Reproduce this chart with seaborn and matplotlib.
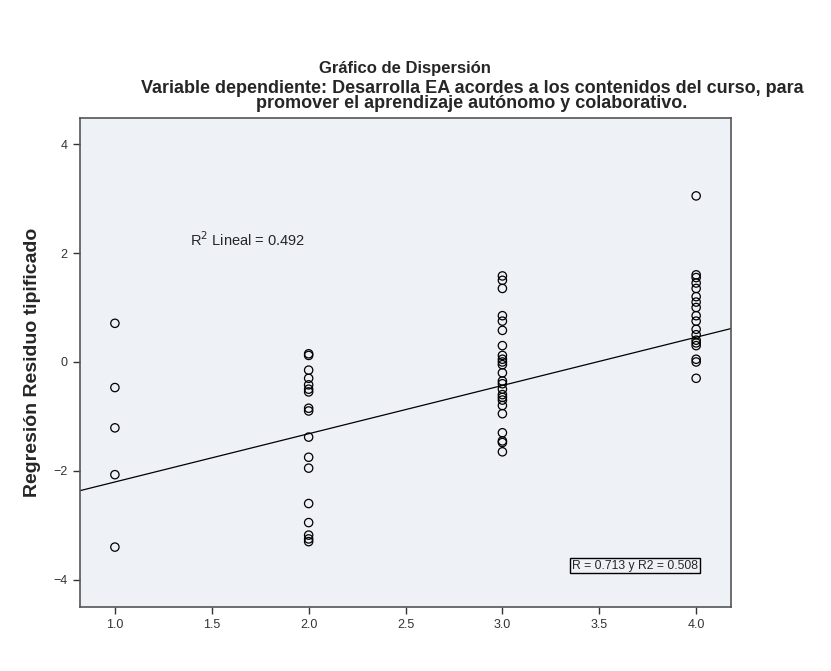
import numpy as np
import pandas as pd
import matplotlib
matplotlib.use("Agg")
import matplotlib.pyplot as plt
import seaborn as sns

# residuals, grouped by x value
res_1 = [0.71, -0.47, -1.21, -2.07, -3.40]
res_2 = [0.15, 0.12, -0.15, -0.30, -0.42, -0.50, -0.55, -0.85, -0.90, -1.38,
         -1.75, -1.95, -2.60, -2.95, -3.18, -3.25, -3.30]
res_3 = [1.58, 1.50, 1.35, 0.85, 0.75, 0.58, 0.30, 0.12, 0.05, 0.00, -0.05,
         -0.20, -0.35, -0.40, -0.50, -0.60, -0.65, -0.70, -0.80, -0.95,
         -1.30, -1.45, -1.48, -1.65]
res_4 = [3.05, 1.60, 1.55, 1.45, 1.35, 1.20, 1.10, 1.00, 0.85, 0.75, 0.60,
         0.50, 0.40, 0.35, 0.30, 0.05, 0.00, -0.30]

x_vals = [1.0] * len(res_1) + [2.0] * len(res_2) + [3.0] * len(res_3) + [4.0] * len(res_4)
y_vals = res_1 + res_2 + res_3 + res_4
df = pd.DataFrame({"x": x_vals, "resid": y_vals})

# fit line as drawn in the chart (many points overlap, so read it directly)
fit_intercept = -3.09
fit_slope = 0.886

x_ticks = [1.0, 1.5, 2.0, 2.5, 3.0, 3.5, 4.0]
y_ticks = [-4, -2, 0, 2, 4]

title = "Gráfico de Dispersión"
subtitle = ("Variable dependiente: Desarrolla EA acordes a los contenidos del curso, para\n"
            "promover el aprendizaje autónomo y colaborativo.")
ylabel = "Regresión Residuo tipificado"
r2_label = "R$^2$ Lineal = 0.492"
r_box = "R = 0.713 y R2 = 0.508"

sns.set_style("white")
plt.rcParams["font.family"] = ["Liberation Sans", "DejaVu Sans"]

fig = plt.figure(figsize=(8.31, 6.71), dpi=100)
ax = fig.add_axes([0.0963, 0.0954, 0.7834, 0.7287])
ax.set_facecolor("#eef2f7")

sns.scatterplot(data=df, x="x", y="resid", ax=ax, marker="o", s=36,
                facecolors="none", edgecolors="black", linewidths=0.9, zorder=3)
ax.axline((0, fit_intercept), slope=fit_slope, color="black", linewidth=0.9, zorder=2)

ax.set_xlim(0.82, 4.18)
ax.set_ylim(-4.5, 4.48)
ax.set_xticks(x_ticks)
ax.set_xticklabels([f"{t:.1f}" for t in x_ticks])
ax.set_yticks(y_ticks)
ax.set_xlabel("")
ax.set_ylabel(ylabel, fontsize=14, fontweight="bold", labelpad=9)
ax.tick_params(axis="both", direction="out", length=5, width=1, labelsize=9, pad=4,
               colors="#333333", bottom=True, left=True)
for sp in ax.spines.values():
    sp.set_color("#555555")
    sp.set_linewidth(1.2)

ax.text(1.39, 2.24, r2_label, fontsize=10.5, va="center", ha="left")
ax.text(4.01, -3.74, r_box, fontsize=8.7, va="center", ha="right",
        bbox=dict(boxstyle="square,pad=0.15", facecolor="#eef2f7", edgecolor="black", linewidth=1))

fig.text(405 / 831, 1 - 68 / 671, title, fontsize=12, fontweight="bold", ha="center", va="center")
fig.text(472 / 831, 1 - 96 / 671, subtitle, fontsize=13, fontweight="bold", ha="center",
         va="center", linespacing=0.92)

fig.savefig("out.png", dpi=100, facecolor="white")
